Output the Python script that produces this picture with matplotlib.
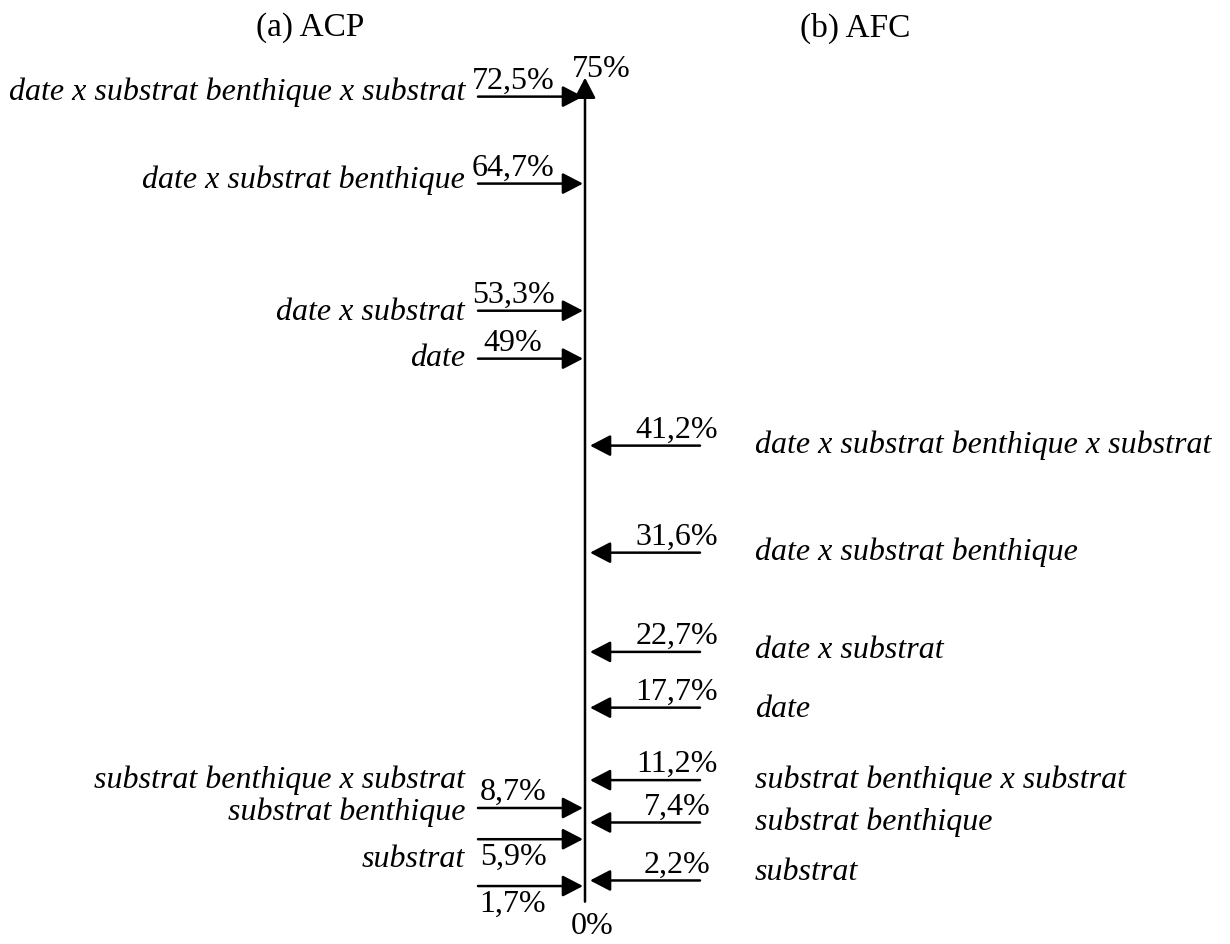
import matplotlib
matplotlib.use("Agg")
import matplotlib.pyplot as plt

# variance explained (%) for each factor
acp_labels = ["date x substrat benthique x substrat", "date x substrat benthique",
              "date x substrat", "date", "substrat benthique x substrat",
              "substrat benthique", "substrat"]
acp_values = [72.5, 64.7, 53.3, 49.0, 8.7, 5.9, 1.7]
acp_texts = ["72,5%", "64,7%", "53,3%", "49%", "8,7%", "5,9%", "1,7%"]

afc_labels = ["date x substrat benthique x substrat", "date x substrat benthique",
              "date x substrat", "date", "substrat benthique x substrat",
              "substrat benthique", "substrat"]
afc_values = [41.2, 31.6, 22.7, 17.7, 11.2, 7.4, 2.2]
afc_texts = ["41,2%", "31,6%", "22,7%", "17,7%", "11,2%", "7,4%", "2,2%"]

# pixel layout helpers
Y0 = 905.0      # pixel row of 0%
K = 11.15       # pixels per percent
H = 944.0

plt.rcParams['font.family'] = ['Liberation Serif', 'DejaVu Serif']

fig = plt.figure(figsize=(12.3, 9.44), dpi=100)
ax = fig.add_axes([0, 0, 1, 1])
ax.set_xlim(0, 1230)
ax.set_ylim((Y0 - H) / K, Y0 / K)
ax.axis('off')

def px(dy):
    # vertical pixel offset -> data units
    return dy / K

FS = 23
arrow = dict(arrowstyle='-|>,head_length=1.25,head_width=0.65', lw=1.8, color='black',
             shrinkA=0, shrinkB=0, mutation_scale=10)

# vertical axis
AX_X = 585
ax.annotate('', xy=(AX_X, 74.2), xytext=(AX_X, 0.3), arrowprops=arrow)
ax.text(601, 74.2 + px(8), "75%", fontsize=FS, ha='center', va='center')
ax.text(592, -px(21), "0%", fontsize=FS, ha='center', va='center')

# titles
ax.text(310, (Y0 - 28) / K, "(a) ACP", fontsize=24, ha='center', va='center')
ax.text(855, (Y0 - 28) / K, "(b) AFC", fontsize=24, ha='center', va='center')

# left side (ACP)
lab_shift = [4, 3, -2, 0, 28, 27, 27]
pct_below = [False, False, False, False, False, True, True]
for lab, v, t, sh, below in zip(acp_labels, acp_values, acp_texts, lab_shift, pct_below):
    ax.annotate('', xy=(583, v), xytext=(478, v), arrowprops=arrow)
    ax.text(465, v + px(sh), lab, fontsize=FS, style='italic', ha='right', va='center')
    if below:
        ax.text(513, v - px(4), t, fontsize=FS, ha='center', va='top')
    else:
        ax.text(513, v + px(1), t, fontsize=FS, ha='center', va='bottom')

# right side (AFC)
lab_shift_r = [0, 0, 1, -2, 0, 0, 8]
for lab, v, t, sh in zip(afc_labels, afc_values, afc_texts, lab_shift_r):
    ax.annotate('', xy=(590, v), xytext=(700, v), arrowprops=arrow)
    ax.text(755, v + px(sh), lab, fontsize=FS, style='italic', ha='left', va='center')
    ax.text(677, v + px(1), t, fontsize=FS, ha='center', va='bottom')

fig.savefig("out.png", dpi=100, facecolor='white')
